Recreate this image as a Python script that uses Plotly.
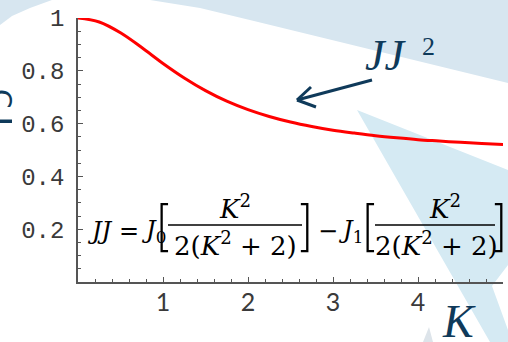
import plotly.graph_objects as go

# JJ^2 as a function of K
K = [0, 0.25, 0.5, 0.75, 1, 1.25, 1.5, 1.75, 2, 2.25, 2.5, 2.75, 3,
     3.25, 3.5, 3.75, 4, 4.25, 4.5, 4.75, 5]
JJ2 = [1.0, 0.985, 0.944, 0.888, 0.828, 0.773, 0.725, 0.685, 0.653, 0.627,
       0.606, 0.589, 0.575, 0.564, 0.554, 0.546, 0.539, 0.534, 0.529, 0.525, 0.521]

x_ticks = [1, 2, 3, 4, 5]
x_minor = [0.2, 0.4, 0.6, 0.8, 1.2, 1.4, 1.6, 1.8, 2.2, 2.4, 2.6, 2.8,
           3.2, 3.4, 3.6, 3.8, 4.2, 4.4, 4.6, 4.8]
y_ticks = [0.2, 0.4, 0.6, 0.8, 1.0]
y_labels = ["0.2", "0.4", "0.6", "0.8", "1"]
y_minor = [0.05, 0.1, 0.15, 0.25, 0.3, 0.35, 0.45, 0.5, 0.55, 0.65, 0.7,
           0.75, 0.85, 0.9, 0.95]

W, H = 508, 342
ML, MR, MT, MB = 78, 5, 18, 60
PW, PH = W - ML - MR, H - MT - MB

NAVY = "#0f3a5a"
AXIS = "#555555"


def px(x):
    return (x - ML) / PW


def py(y):
    return (H - MB - y) / PH


def path(points):
    return "M " + " L ".join(f"{px(a):.4f},{py(b):.4f}" for a, b in points) + " Z"


fig = go.Figure()
fig.add_trace(go.Scatter(
    x=K, y=JJ2, mode="lines",
    line=dict(color="#ff0000", width=3, shape="spline"),
    cliponaxis=False, hoverinfo="skip",
))

shapes = []
# slide background decoration
shapes.append(dict(type="path", xref="paper", yref="paper", layer="below",
                   path=path([(0, 0), (52, 0), (30, 8), (12, 16), (0, 25)]),
                   fillcolor="#d7e6f0", line=dict(width=0)))
shapes.append(dict(type="path", xref="paper", yref="paper", layer="below",
                   path=path([(150, 0), (200, 8), (254, 21), (508, 83), (508, 0)]),
                   fillcolor="#d7e6f0", line=dict(width=0)))
shapes.append(dict(type="path", xref="paper", yref="paper", layer="below",
                   path=path([(357, 110), (508, 170), (508, 265), (492, 286),
                              (508, 330), (508, 342), (490, 342)]),
                   fillcolor="#d5eaf3", line=dict(width=0)))
shapes.append(dict(type="path", xref="paper", yref="paper", layer="below",
                   path=path([(423, 342), (429, 327), (433, 342)]),
                   fillcolor="#dde4ea", line=dict(width=0)))
shapes.append(dict(type="rect", xref="paper", yref="paper", layer="above",
                   x0=px(0), x1=px(12), y0=py(123), y1=py(119.5),
                   fillcolor=NAVY, line=dict(width=0)))

# arrow pointing at the curve
for (a, b) in [((372, 80), (297, 100)), ((297, 100), (311, 87)), ((297, 100), (316, 107))]:
    shapes.append(dict(type="line", xref="paper", yref="paper", layer="above",
                       x0=px(a[0]), y0=py(a[1]), x1=px(b[0]), y1=py(b[1]),
                       line=dict(color=NAVY, width=3)))

# fraction bars of the formula
for x0, x1 in [(168, 302), (375, 495)]:
    shapes.append(dict(type="line", xref="paper", yref="paper", layer="above",
                       x0=px(x0), x1=px(x1), y0=py(225), y1=py(225),
                       line=dict(color="black", width=1.6)))

ann = []


def text(t, x, y, size, family="DejaVu Serif", color="black", xanchor="center",
         yanchor="middle", angle=0, weight=None):
    f = dict(family=family, size=size, color=color)
    if weight is not None:
        f["weight"] = weight
    ann.append(dict(text=t, x=px(x), y=py(y), xref="paper", yref="paper",
                    showarrow=False, xanchor=xanchor, yanchor=yanchor,
                    textangle=angle, borderpad=0, font=f))


text("<i>JJ</i>", 386, 56, 44, family="Liberation Serif", color=NAVY)
text("2", 428, 46, 26, family="Liberation Serif", color=NAVY)
text("<i>K</i>", 459, 321, 46, family="Liberation Serif", color=NAVY)
text("C", 0, 99, 28, family="DejaVu Sans", color=NAVY, angle=90)

# formula
FS = 26
FM = 24
text("<i>JJ</i> =", 140, 231, FM, xanchor="right")
text("<i>J</i><sub>0</sub>", 140, 231, FM, xanchor="left")
text("[", 163, 225, 54, family="Inter", weight=200)
text("<i>K</i><sup>2</sup>", 235, 207, FS)
text("2(<i>K</i><sup>2</sup> + 2)", 235, 244, FS)
text("]", 306, 225, 54, family="Inter", weight=200)
text("\u2212", 328, 231, FM)
text("<i>J</i><sub>1</sub>", 337, 231, FM, xanchor="left")
text("[", 369, 225, 54, family="Inter", weight=200)
text("<i>K</i><sup>2</sup>", 445, 207, FS)
text("2(<i>K</i><sup>2</sup> + 2)", 436, 244, FS)
text("]", 500, 225, 54, family="Inter", weight=200)

fig.update_layout(
    width=W, height=H,
    margin=dict(l=ML, r=MR, t=MT, b=MB, pad=0),
    paper_bgcolor="white", plot_bgcolor="rgba(0,0,0,0)",
    showlegend=False,
    shapes=shapes, annotations=ann,
    xaxis=dict(range=[0, 5], tickmode="array", tickvals=x_ticks,
               ticks="inside", ticklen=5, tickwidth=1.3, tickcolor=AXIS,
               showline=True, linecolor=AXIS, linewidth=1.5,
               showgrid=False, zeroline=False,
               minor=dict(tickvals=x_minor, ticks="inside", ticklen=3,
                          tickwidth=1.2, tickcolor=AXIS, showgrid=False),
               tickfont=dict(family="Lato", size=25, color="#3a3a3a"),
               ticklabelstandoff=-3),
    yaxis=dict(range=[0, 1], tickmode="array", tickvals=y_ticks, ticktext=y_labels,
               ticks="inside", ticklen=5, tickwidth=1.3, tickcolor=AXIS,
               showline=True, linecolor=AXIS, linewidth=1.5,
               showgrid=False, zeroline=False,
               minor=dict(tickvals=y_minor, ticks="inside", ticklen=3,
                          tickwidth=1.2, tickcolor=AXIS, showgrid=False),
               tickfont=dict(family="Liberation Mono", size=24, color="#3a3a3a"),
               ticklabelstandoff=7),
)

fig.write_html("out.html")
